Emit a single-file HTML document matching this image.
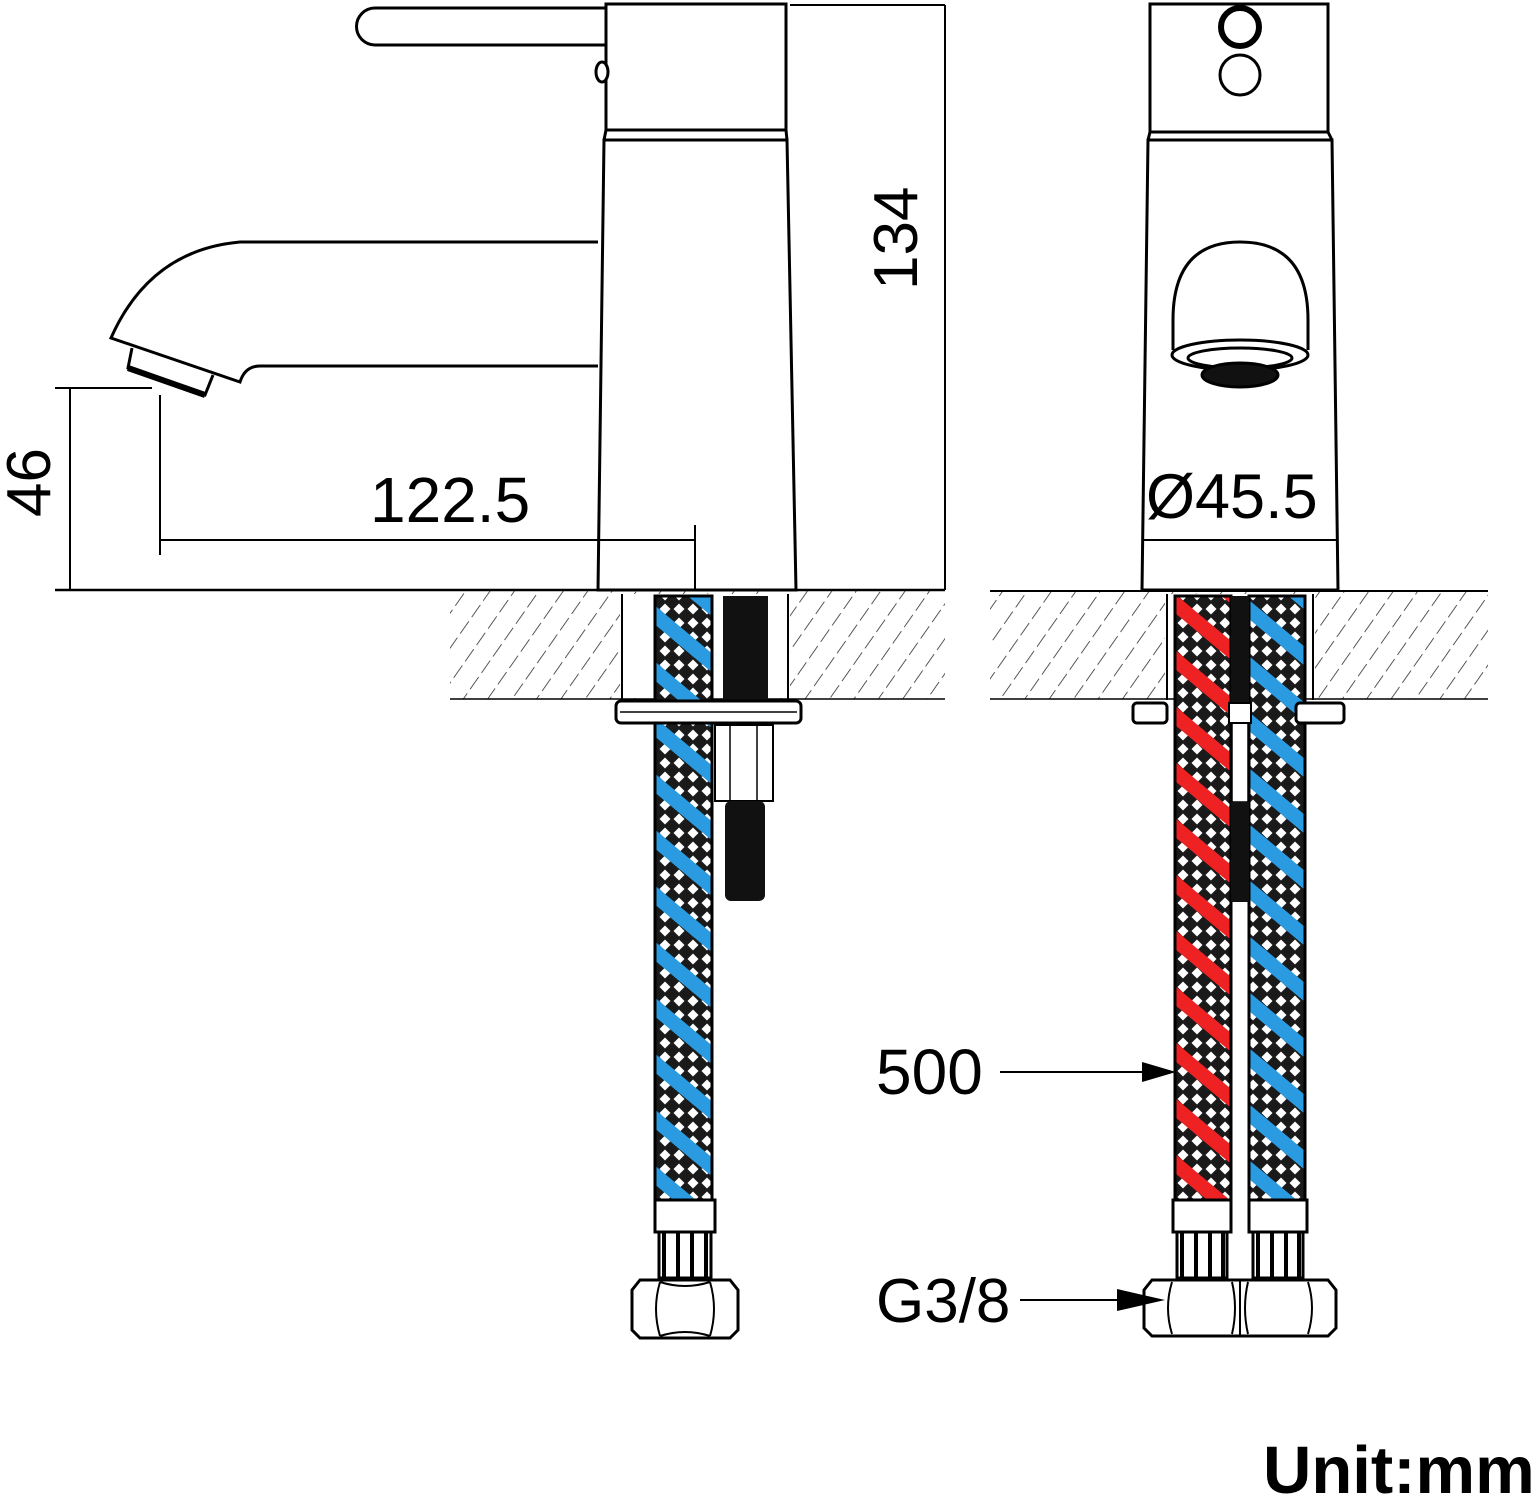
<!DOCTYPE html>
<html><head><meta charset="utf-8"><style>
html,body{margin:0;padding:0;background:#fff;}
svg{display:block;}
text{font-family:"Liberation Sans",sans-serif;fill:#000;}
</style></head><body>
<svg width="1538" height="1500" viewBox="0 0 1538 1500" xmlns="http://www.w3.org/2000/svg">
<defs>
<pattern id="hatch" width="20" height="20" patternUnits="userSpaceOnUse" patternTransform="rotate(35)">
<line x1="0" y1="0" x2="0" y2="15" stroke="#222" stroke-width="1.5"/>
</pattern>
<pattern id="mesh" width="14" height="14" patternUnits="userSpaceOnUse">
<rect width="14" height="14" fill="#1a1a1a"/>
<polygon points="7,1.5 12.5,7 7,12.5 1.5,7" fill="#fff"/>
</pattern>
<pattern id="blueS" width="60" height="56" patternUnits="userSpaceOnUse" patternTransform="skewY(40)">
<rect x="0" y="0" width="60" height="19" fill="#2a9be0"/>
</pattern>
<pattern id="redS" width="60" height="56" patternUnits="userSpaceOnUse" patternTransform="skewY(40)">
<rect x="0" y="0" width="60" height="19" fill="#ee2222"/>
</pattern>
</defs>

<g fill="none" stroke="#000" stroke-width="3">
<rect x="450" y="591" width="495" height="108" fill="url(#hatch)" stroke="none"/>
<rect x="990" y="591" width="498" height="108" fill="url(#hatch)" stroke="none"/>
<rect x="620" y="594" width="170" height="104" fill="#fff" stroke="none"/>
<rect x="1165" y="594" width="150" height="104" fill="#fff" stroke="none"/>
<line x1="450" y1="699" x2="945" y2="699" stroke-width="1.5"/>
<line x1="990" y1="699" x2="1488" y2="699" stroke-width="1.5"/>
<line x1="990" y1="591" x2="1488" y2="591" stroke-width="2"/>
<line x1="622" y1="594" x2="622" y2="700" stroke-width="2"/>
<line x1="788" y1="594" x2="788" y2="700" stroke-width="2"/>
<line x1="1167" y1="594" x2="1167" y2="700" stroke-width="2"/>
<line x1="1313" y1="594" x2="1313" y2="700" stroke-width="2"/>

<!-- LEFT FAUCET -->
<path d="M606 8 L375 8 A18 18 0 0 0 375 45 L606 45" fill="#fff"/>
<rect x="606" y="4" width="180" height="126" fill="#fff"/>
<path d="M604 140 L787 140 L796 590 L598 590 Z" fill="#fff"/>
<line x1="606" y1="130" x2="604" y2="140"/><line x1="786" y1="130" x2="787" y2="140"/>
<path d="M598 242 L240 242 Q150 250 111 338 L240 382 Q245 366 260 366 L598 366" fill="#fff"/>
<path d="M132 348 L128 368 L205 395 L213 375" fill="#fff"/>
<path d="M128 368 L205 395" stroke-width="6"/>
<ellipse cx="602" cy="72" rx="6" ry="10" fill="#fff"/>

<line x1="790" y1="5" x2="945" y2="5" stroke-width="2"/>
<line x1="945" y1="5" x2="945" y2="590" stroke-width="2"/>
<line x1="55" y1="590" x2="945" y2="590" stroke-width="2.5"/>
<line x1="55" y1="388" x2="152" y2="388" stroke-width="2"/>
<line x1="70" y1="388" x2="70" y2="590" stroke-width="2"/>
<line x1="160" y1="395" x2="160" y2="555" stroke-width="2"/>
<line x1="160" y1="540" x2="695" y2="540" stroke-width="2"/>
<line x1="695" y1="525" x2="695" y2="590" stroke-width="2"/>

<!-- RIGHT FAUCET -->
<rect x="1150" y="4" width="178" height="128" fill="#fff"/>
<path d="M1148 140 L1332 140 L1338 590 L1142 590 Z" fill="#fff"/>
<line x1="1150" y1="132" x2="1148" y2="140"/><line x1="1328" y1="132" x2="1332" y2="140"/>
<circle cx="1240" cy="27" r="19" stroke-width="6"/>
<circle cx="1240" cy="75" r="20"/>
<path d="M1173 350 L1173 320 Q1173 242 1240 242 Q1308 242 1308 320 L1308 350" fill="#fff"/>
<ellipse cx="1240" cy="355" rx="68" ry="15" fill="#fff"/>
<ellipse cx="1240" cy="358" rx="52" ry="10"/>
<ellipse cx="1240" cy="375" rx="38" ry="12" fill="#111"/>
<line x1="1142" y1="540" x2="1338" y2="540" stroke-width="2"/>

<!-- LEFT HOSE & ROD -->
<rect x="655" y="596" width="57" height="604" fill="url(#mesh)" stroke="none"/>
<rect x="655" y="596" width="57" height="604" fill="url(#blueS)" stroke="none"/>
<rect x="655" y="596" width="57" height="604"/>
<rect x="723" y="596" width="45" height="108" fill="#111" stroke="none"/>
<rect x="616" y="701" width="185" height="22" rx="5" fill="#fff"/>
<line x1="620" y1="712" x2="797" y2="712" stroke-width="1.5"/>
<rect x="715" y="725" width="58" height="76" fill="#fff" stroke-width="2"/>
<line x1="730" y1="725" x2="730" y2="801" stroke-width="1.5"/><line x1="757" y1="725" x2="757" y2="801" stroke-width="1.5"/>
<rect x="725" y="801" width="40" height="100" rx="6" fill="#111" stroke="none"/>

<rect x="655" y="1200" width="60" height="32" fill="#fff"/>
<rect x="659" y="1232" width="52" height="46" fill="#fff"/>
<g stroke-width="4"><line x1="664" y1="1232" x2="664" y2="1278"/><line x1="678" y1="1232" x2="678" y2="1278"/><line x1="692" y1="1232" x2="692" y2="1278"/><line x1="706" y1="1232" x2="706" y2="1278"/></g>
<path d="M640 1280 L730 1280 L738 1290 L738 1330 L730 1338 L640 1338 L632 1330 L632 1290 Z" fill="#fff"/>
<path d="M660 1282 Q652 1309 660 1336 M710 1282 Q718 1309 710 1336 M660 1282 Q685 1290 710 1282 M660 1336 Q685 1328 710 1336" stroke-width="2"/>

<!-- RIGHT HOSES -->
<rect x="1175" y="596" width="56" height="604" fill="url(#mesh)" stroke="none"/>
<rect x="1175" y="596" width="56" height="604" fill="url(#redS)" stroke="none"/>
<rect x="1175" y="596" width="56" height="604"/>
<rect x="1249" y="596" width="56" height="604" fill="url(#mesh)" stroke="none"/>
<rect x="1249" y="596" width="56" height="604" fill="url(#blueS)" stroke="none"/>
<rect x="1249" y="596" width="56" height="604"/>
<rect x="1231" y="596" width="18" height="110" fill="#111" stroke="none"/>
<rect x="1232" y="722" width="16" height="80" fill="#fff" stroke-width="1.5"/>
<rect x="1231" y="802" width="18" height="100" fill="#111" stroke="none"/>
<rect x="1133" y="703" width="34" height="20" rx="4" fill="#fff"/>
<rect x="1296" y="703" width="48" height="20" rx="4" fill="#fff"/>
<rect x="1229" y="703" width="22" height="20" fill="#fff" stroke-width="2"/>

<rect x="1173" y="1200" width="58" height="32" fill="#fff"/>
<rect x="1177" y="1232" width="50" height="46" fill="#fff"/>
<rect x="1249" y="1200" width="58" height="32" fill="#fff"/>
<rect x="1253" y="1232" width="50" height="46" fill="#fff"/>
<g stroke-width="4"><line x1="1182" y1="1232" x2="1182" y2="1278"/><line x1="1196" y1="1232" x2="1196" y2="1278"/><line x1="1210" y1="1232" x2="1210" y2="1278"/><line x1="1223" y1="1232" x2="1223" y2="1278"/>
<line x1="1258" y1="1232" x2="1258" y2="1278"/><line x1="1272" y1="1232" x2="1272" y2="1278"/><line x1="1286" y1="1232" x2="1286" y2="1278"/><line x1="1299" y1="1232" x2="1299" y2="1278"/></g>
<path d="M1152 1280 L1328 1280 L1336 1290 L1336 1328 L1328 1336 L1152 1336 L1144 1328 L1144 1290 Z" fill="#fff"/>
<line x1="1240" y1="1280" x2="1240" y2="1336" stroke-width="2"/>
<path d="M1172 1282 Q1164 1308 1172 1334 M1232 1282 Q1238 1308 1232 1334 M1248 1282 Q1242 1308 1248 1334 M1308 1282 Q1316 1308 1308 1334" stroke-width="2"/>

<line x1="1000" y1="1072" x2="1145" y2="1072" stroke-width="2"/>
<line x1="1020" y1="1300" x2="1120" y2="1300" stroke-width="2"/>
</g>
<polygon points="1142,1062 1176,1072 1142,1082" fill="#000"/>
<polygon points="1117,1289 1165,1300 1117,1311" fill="#000"/>

<text x="370" y="522" font-size="64">122.5</text>
<text x="1146" y="518" font-size="63">Ø45.5</text>
<text transform="translate(917,290) rotate(-90)" font-size="62">134</text>
<text transform="translate(50,517) rotate(-90)" font-size="62">46</text>
<text x="876" y="1094" font-size="64">500</text>
<text x="876" y="1322" font-size="62">G3/8</text>
<text x="1263" y="1493" font-size="67" font-weight="bold">Unit:mm</text>
</svg>
</body></html>
